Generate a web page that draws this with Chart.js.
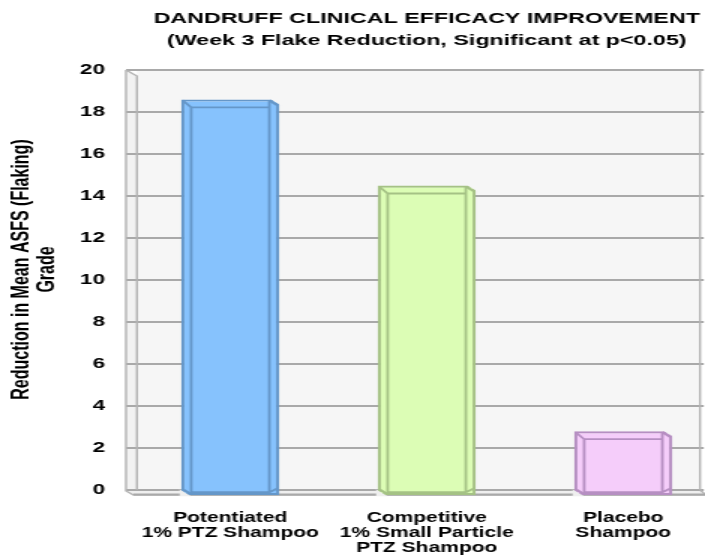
<!DOCTYPE html>
<html>
<head>
<meta charset="utf-8">
<script src="https://cdn.jsdelivr.net/npm/chart.js@4"></script>
<style>
  html, body { margin: 0; padding: 0; overflow: hidden; background: #ffffff; }
  /* the chart is laid out narrow and widened horizontally */
  #stage { width: 490px; height: 557px; transform: scaleX(1.5); transform-origin: 0 0; }
  canvas { display: block; }
</style>
</head>
<body>
<div id="stage"><canvas id="c" width="490" height="557"></canvas></div>
<script>
// ---- data ----
const categories = [
  ['Potentiated', '1% PTZ Shampoo'],
  ['Competitive', '1% Small Particle', 'PTZ Shampoo'],
  ['Placebo', 'Shampoo']
];
const flakeReduction = [18.6, 14.5, 2.8];
const yTicks = [0, 2, 4, 6, 8, 10, 12, 14, 16, 18, 20];
const titleLines = ['DANDRUFF CLINICAL EFFICACY IMPROVEMENT', '(Week 3 Flake Reduction, Significant at p<0.05)'];
const yTitleLines = ['Reduction in Mean ASFS (Flaking)', 'Grade'];

// ---- styling ----
const fills = ['#86c2fd', '#dcfdb5', '#f5cdfa'];
const edges = ['#6597c9', '#a5c285', '#b68fc2'];
const FONT = "'Liberation Sans', Arial, sans-serif";
const WALL_FILL = '#f6f6f6';
const FLOOR_FILL = '#efefef';
const GRID = '#a9a9a9';

// Back wall, side wall and floor of the 3-D box, plus the value gridlines
const boxPlugin = {
  id: 'box3d',
  beforeDatasetsDraw(chart) {
    const { ctx, chartArea: a, scales: { y } } = chart;
    const outerL = a.left - 4;
    const backL = outerL + 7.3;
    const backR = a.right - 14.3;
    const top = y.getPixelForValue(yTicks[yTicks.length - 1]);
    const zero = y.getPixelForValue(0);
    const front = zero + 5;

    ctx.save();
    // back wall
    ctx.fillStyle = WALL_FILL;
    ctx.fillRect(backL, top, backR - backL, zero - top);
    // left wall
    ctx.fillStyle = '#f2f2f2';
    ctx.beginPath();
    ctx.moveTo(outerL, top); ctx.lineTo(backL, top + 6);
    ctx.lineTo(backL, zero); ctx.lineTo(outerL, zero + 1);
    ctx.closePath(); ctx.fill();
    // floor
    ctx.fillStyle = FLOOR_FILL;
    ctx.beginPath();
    ctx.moveTo(backL, zero); ctx.lineTo(backR, zero);
    ctx.lineTo(backR + 4, front); ctx.lineTo(outerL + 5, front);
    ctx.lineTo(outerL, zero + 1);
    ctx.closePath(); ctx.fill();

    // gridlines
    ctx.strokeStyle = GRID;
    ctx.lineWidth = 2;
    ctx.beginPath();
    yTicks.forEach(v => {
      const py = y.getPixelForValue(v);
      ctx.moveTo(outerL, py);
      ctx.lineTo(backR + 2.5, py);
    });
    ctx.stroke();

    // box edges
    ctx.lineWidth = 1.4;
    ctx.strokeStyle = '#b3b3b3';
    ctx.beginPath();
    ctx.moveTo(outerL, top); ctx.lineTo(outerL, zero + 1);
    ctx.lineTo(outerL + 5, front); ctx.lineTo(backR + 4, front);
    ctx.lineTo(backR, zero);
    ctx.moveTo(outerL, top); ctx.lineTo(backL, top + 6); ctx.lineTo(backL, zero);
    ctx.moveTo(backR, top); ctx.lineTo(backR, zero);
    ctx.stroke();
    ctx.lineWidth = 2;
    ctx.strokeStyle = GRID;
    ctx.beginPath();
    ctx.moveTo(outerL + 5, front - 0.5); ctx.lineTo(backR + 4, front - 0.5);
    ctx.stroke();
    ctx.restore();
  },
  // bevel lines on each column
  afterDatasetsDraw(chart) {
    const { ctx } = chart;
    const meta = chart.getDatasetMeta(0);
    ctx.save();
    meta.data.forEach((bar, i) => {
      const { x, y, base, width } = bar.getProps(['x', 'y', 'base', 'width'], true);
      const l = x - width / 2, r = x + width / 2;
      const inset = 6.7;
      // cut top-right corner
      ctx.fillStyle = WALL_FILL;
      ctx.beginPath();
      ctx.moveTo(r - inset, y - 1); ctx.lineTo(r + 1, y - 1); ctx.lineTo(r + 1, y + 6);
      ctx.closePath(); ctx.fill();
      // cut bottom-left corner
      ctx.fillStyle = FLOOR_FILL;
      ctx.beginPath();
      ctx.moveTo(l - 1, base - 6); ctx.lineTo(l - 1, base + 1); ctx.lineTo(l + inset, base + 1);
      ctx.closePath(); ctx.fill();

      ctx.strokeStyle = edges[i];
      ctx.lineWidth = 2.2;
      ctx.beginPath();
      ctx.moveTo(r - inset, y + 1); ctx.lineTo(r - 1, y + 6);
      ctx.moveTo(l + 1, base - 6); ctx.lineTo(l + inset, base - 1);
      ctx.stroke();

      ctx.lineWidth = 1.8;
      ctx.beginPath();
      ctx.moveTo(l + 1, y + 1); ctx.lineTo(l + inset, y + 8);
      ctx.lineTo(r - inset, y + 8);
      ctx.moveTo(l + inset, y + 8); ctx.lineTo(l + inset, base - 3);
      ctx.lineTo(r - inset, base - 3);
      ctx.moveTo(r - inset, y + 1); ctx.lineTo(r - inset, base - 3);
      ctx.lineTo(r - 1, base - 7);
      ctx.stroke();
    });
    ctx.restore();
  }
};

new Chart(document.getElementById('c'), {
  type: 'bar',
  data: {
    labels: categories,
    datasets: [{
      data: flakeReduction,
      backgroundColor: fills,
      borderColor: edges,
      borderWidth: 2.2,
      borderSkipped: false,
      barPercentage: 1,
      categoryPercentage: 0.5,
      base: -0.25,
      clip: false
    }]
  },
  options: {
    responsive: false,
    animation: false,
    devicePixelRatio: 1,
    layout: { padding: { left: 0, right: 9, top: 0, bottom: 0 } },
    plugins: {
      legend: { display: false },
      tooltip: { enabled: false },
      title: {
        display: true,
        text: titleLines,
        fullSize: false,
        color: '#000000',
        font: { family: FONT, size: 15.5, weight: 'bold', lineHeight: 1.4 },
        padding: { top: 7.7, bottom: -2.1 }
      }
    },
    scales: {
      x: {
        grid: { display: false, drawTicks: false },
        border: { display: false },
        ticks: {
          color: '#000000',
          font: { family: FONT, size: 14, weight: 'bold', lineHeight: 1.1 },
          padding: 20,
          maxRotation: 0,
          autoSkip: false
        },
        afterFit: s => { s.height = 67; }
      },
      y: {
        min: 0,
        max: 21,
        afterBuildTicks: s => { s.ticks = yTicks.map(v => ({ value: v })); },
        grid: { display: false, drawTicks: false },
        border: { display: false },
        ticks: {
          color: '#000000',
          font: { family: FONT, size: 15, weight: 'bold' },
          padding: 18
        },
        title: {
          display: true,
          text: yTitleLines,
          color: '#000000',
          font: { family: FONT, size: 16, weight: 'bold', lineHeight: 1.08 },
          padding: { top: 5.5, bottom: 0 }
        },
        afterFit: s => { s.width = 88; }
      }
    }
  },
  plugins: [boxPlugin]
});
</script>
</body>
</html>
